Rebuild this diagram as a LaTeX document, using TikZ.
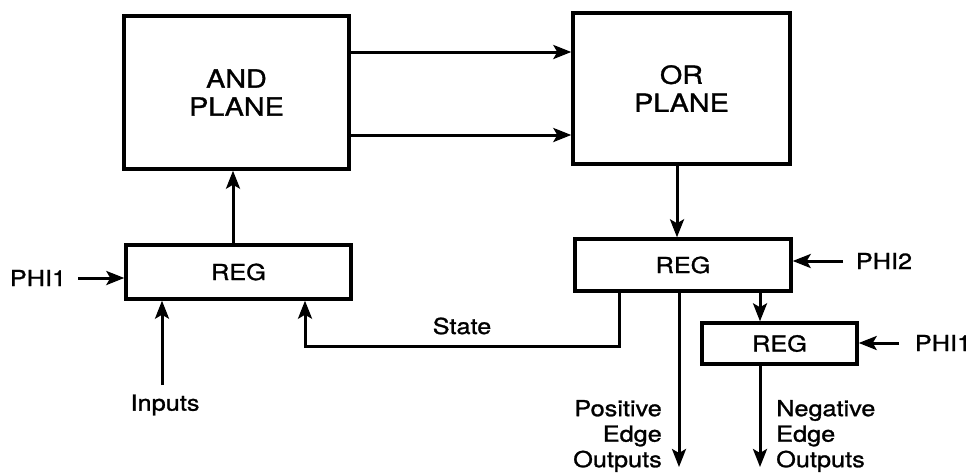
\documentclass[tikz,border=0pt]{standalone}
\usepackage{fontspec}
\setmainfont[FakeStretch=1.15,FakeBold=1.2]{TeX Gyre Heros}
\usetikzlibrary{arrows.meta}
\begin{document}
\begin{tikzpicture}[x=1pt,y=-1pt,
  blk/.style={draw,line width=3.4pt,rectangle,inner sep=0pt,align=center},
  lbl/.style={inner sep=0pt,font=\fontsize{22}{25.5}\selectfont,align=center},
  arr/.style={line width=3pt,-{Stealth[length=18pt,width=14pt,inset=4pt]}},
  big/.style={font=\fontsize{25}{28}\selectfont},
  small/.style={font=\fontsize{22}{25.5}\selectfont}]
\useasboundingbox (0,0) rectangle (973,472);
\node[blk,big,minimum width=225pt,minimum height=153pt] (andp) at (236.5,92.5) {AND\\PLANE};
\node[blk,big,minimum width=217pt,minimum height=151pt] (orp) at (681.5,88.5) {OR\\PLANE};
\node[blk,small,minimum width=225pt,minimum height=54pt] (reg1) at (238.5,272) {REG};
\node[blk,small,minimum width=216pt,minimum height=52pt] (reg2) at (683,265) {REG};
\node[blk,small,minimum width=155pt,minimum height=41pt] (reg3) at (779.5,343.5) {REG};
\node[lbl] (phia) at (38,278) {PHI1};
\node[lbl] (phib) at (884,261) {PHI2};
\node[lbl] (phic) at (943,343) {PHI1};
\node[lbl] (inputs) at (165,405) {Inputs};
\node[lbl] (state) at (462,326) {State};
\node[lbl,anchor=east,align=right] (pos) at (662,436) {Positive\\Edge\\Outputs};
\node[lbl,anchor=west,align=left] (neg) at (776,436) {Negative\\Edge\\Outputs};
\coordinate (posend) at (679,467);
\coordinate (negend) at (760,467);
\coordinate (sa) at (619,346);
\coordinate (sb) at (305,346);
\coordinate (phiaT) at (78,278);
\coordinate (phibT) at (843,261);
\coordinate (phicT) at (899,343);
\coordinate (inT) at (162,385);
% AND -> OR
\draw[arr] (andp.east |- {(0,52)}) -- (orp.west |- {(0,52)});
\draw[arr] (andp.east |- {(0,135)}) -- (orp.west |- {(0,135)});
% REG1 -> AND
\draw[arr] (reg1.north -| {(233,0)}) -- (andp.south -| {(233,0)});
% PHI1 -> REG1
\draw[arr] (phiaT) -- (reg1.west |- phiaT);
% Inputs -> REG1
\draw[arr] (inT) -- (reg1.south -| inT);
% OR -> REG2
\draw[arr] (orp.south -| {(677,0)}) -- (reg2.north -| {(677,0)});
% PHI2 -> REG2
\draw[arr] (phibT) -- (reg2.east |- phibT);
% State feedback
\draw[arr] (reg2.south -| sa) -- (sa) -- (sb) -- (reg1.south -| sb);
% REG2 -> REG3
\draw[arr] (reg2.south -| {(760,0)}) -- (reg3.north -| {(760,0)});
% PHI1 -> REG3
\draw[arr] (phicT) -- (reg3.east |- phicT);
% outputs
\draw[arr] (reg2.south -| posend) -- (posend);
\draw[arr] (reg3.south -| negend) -- (negend);
\end{tikzpicture}
\end{document}
